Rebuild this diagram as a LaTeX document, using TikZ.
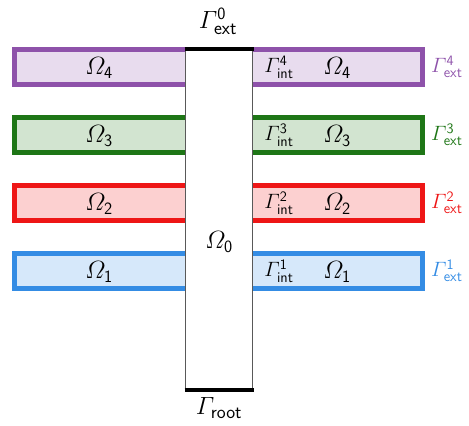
\documentclass[tikz,border=0pt]{standalone}
\usepackage{amsmath}
\definecolor{domfour}{RGB}{142,82,170}
\definecolor{domthree}{RGB}{30,118,22}
\definecolor{domtwo}{RGB}{238,22,22}
\definecolor{domone}{RGB}{52,140,228}
\newcommand{\sub}[1]{\textsf{#1}}
\tikzset{
  biglabel/.style={font=\fontsize{27}{30}\selectfont},
  omlabel/.style={font=\fontsize{24}{27}\selectfont},
  intlabel/.style={font=\fontsize{21}{24}\selectfont},
  extlabel/.style={font=\fontsize{21}{24}\selectfont, anchor=west, inner sep=1pt}
}
\begin{document}
\begin{tikzpicture}[x=1pt, y=-1pt]
\useasboundingbox (0, 0) rectangle (469, 426);

% side domains
\foreach \k/\c/\y in {4/domfour/67, 3/domthree/135, 2/domtwo/203, 1/domone/271} {
  \draw [line width=5pt, \c, fill=\c!20] (14.5, \y-17.5) rectangle (422.5, \y+17.5);
  \node [omlabel] (left\k) at (99, \y+1) {$\varOmega_{\mathsf{\k}}$};
  \node [intlabel] (int\k) at (279, \y) {$\varGamma^{\mathsf{\k}}_{\sub{int}}$};
  \node [omlabel] (right\k) at (337, \y+1) {$\varOmega_{\mathsf{\k}}$};
  \node [extlabel, \c] (ext\k) at (430, \y) {$\varGamma^{\mathsf{\k}}_{\sub{ext}}$};
}

% central domain
\draw [gray!70!black, line width=1.5pt, fill=white] (185.5, 49) rectangle (252.5, 390);
\draw [line width=4pt] (184.5, 49) -- (253.5, 49);
\draw [line width=4pt] (184.5, 390) -- (253.5, 390);
\node [omlabel] (center) at (219, 242) {$\varOmega_{\mathsf{0}}$};
\node [biglabel] (top) at (218, 21) {$\varGamma^{\mathsf{0}}_{\sub{ext}}$};
\node [biglabel] (root) at (219, 408) {$\varGamma_{\sub{root}}$};
\end{tikzpicture}
\end{document}
